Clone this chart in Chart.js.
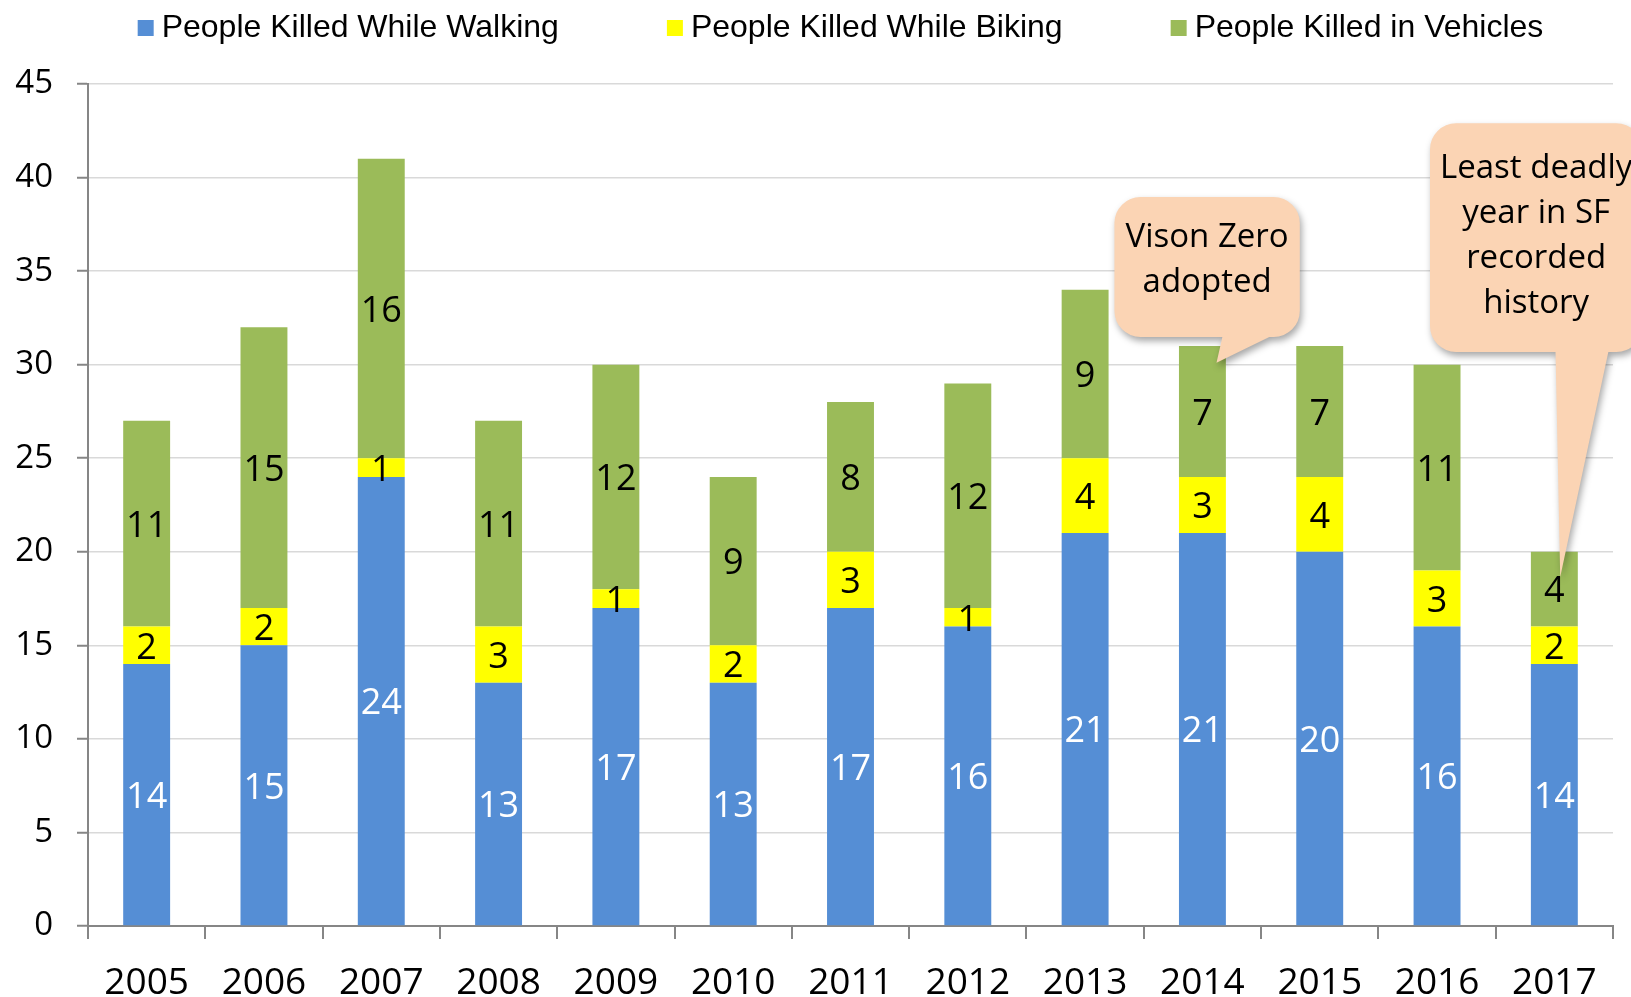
<!DOCTYPE html>
<html>
<head>
<meta charset="utf-8">
<script src="https://cdn.jsdelivr.net/npm/chart.js@4.4.1/dist/chart.umd.min.js"></script>
<style>
  html, body { margin: 0; padding: 0; background: #fff; }
  canvas { display: block; }
</style>
</head>
<body>
<canvas id="chart" width="1631" height="997"></canvas>
<script>
// data
const years = ['2005', '2006', '2007', '2008', '2009', '2010', '2011', '2012', '2013', '2014', '2015', '2016', '2017'];
const walking = [14, 15, 24, 13, 17, 13, 17, 16, 21, 21, 20, 16, 14];
const biking = [2, 2, 1, 3, 1, 2, 3, 1, 4, 3, 4, 3, 2];
const vehicles = [11, 15, 16, 11, 12, 9, 8, 12, 9, 7, 7, 11, 4];
const seriesLabels = ['People Killed While Walking', 'People Killed While Biking', 'People Killed in Vehicles'];

// callout notes, anchored in data units (x = category index, y = value)
const notes = [
    { lines: ['Vison Zero', 'adopted'], x: [8.25, 9.83], y: [38.96, 31.48], base: [9.17, 9.57], tip: [9.12, 30.1], dy: -7 },
    { lines: ['Least deadly', 'year in SF', 'recorded', 'history'], x: [10.94, 12.75], y: [42.9, 30.68], base: [12.01, 12.46], tip: [12.05, 18.65], dy: -2 }
];

const FONT = '"Open Sans", sans-serif';

function drawNote(chart, note) {
    const ctx = chart.ctx;
    const xs = chart.scales.x, ys = chart.scales.y;
    const px = v => xs.getPixelForValue(v);
    const py = v => ys.getPixelForValue(v);
    const l = px(note.x[0]), r = px(note.x[1]);
    const t = py(note.y[0]), b = py(note.y[1]);
    const bl = px(note.base[0]), br = px(note.base[1]);
    const tx = px(note.tip[0]), ty = py(note.tip[1]);
    const rad = 26;

    ctx.save();
    ctx.beginPath();
    ctx.moveTo(l + rad, t);
    ctx.arcTo(r, t, r, b, rad);
    ctx.arcTo(r, b, l, b, rad);
    ctx.lineTo(br, b);
    ctx.lineTo(tx, ty);
    ctx.lineTo(bl, b);
    ctx.arcTo(l, b, l, t, rad);
    ctx.arcTo(l, t, r, t, rad);
    ctx.closePath();
    ctx.shadowColor = 'rgba(0,0,0,0.35)';
    ctx.shadowBlur = 7;
    ctx.shadowOffsetX = 2;
    ctx.shadowOffsetY = 4;
    ctx.fillStyle = '#fbd4b4';
    ctx.fill();
    ctx.restore();

    ctx.save();
    ctx.font = '33px ' + FONT;
    ctx.fillStyle = '#000';
    ctx.textAlign = 'center';
    ctx.textBaseline = 'middle';
    const lh = 45;
    const cx = (l + r) / 2;
    const cy = (t + b) / 2 + note.dy;
    note.lines.forEach((s, i) => {
        ctx.fillText(s, cx, cy + (i - (note.lines.length - 1) / 2) * lh);
    });
    ctx.restore();
}

const overlays = {
    id: 'overlays',
    afterDatasetsDraw(chart) {
        notes.forEach(n => drawNote(chart, n));

        // value labels in the middle of each segment
        const ctx = chart.ctx;
        ctx.save();
        ctx.font = '36px ' + FONT;
        ctx.textAlign = 'center';
        ctx.textBaseline = 'middle';
        chart.data.datasets.forEach((ds, i) => {
            const meta = chart.getDatasetMeta(i);
            meta.data.forEach((bar, j) => {
                ctx.fillStyle = i === 0 ? '#ffffff' : '#000000';
                ctx.fillText(String(ds.data[j]), bar.x, (bar.y + bar.base) / 2 + 3);
            });
        });
        ctx.restore();
    },
    afterDraw(chart) {
        // legend along the top
        const ctx = chart.ctx;
        const area = chart.chartArea;
        ctx.save();
        ctx.font = '32px "Liberation Sans", Arial, sans-serif';
        ctx.textBaseline = 'middle';
        ctx.textAlign = 'left';
        const box = 16, gap = 8, spacing = 108;
        const items = chart.data.datasets.map(ds => ({ text: ds.label, color: ds.backgroundColor, w: ctx.measureText(ds.label).width }));
        let total = items.reduce((s, it) => s + box + gap + it.w, 0) + spacing * (items.length - 1);
        let x = (area.left + area.right) / 2 - 10 - total / 2;
        const y = 28;
        items.forEach(it => {
            ctx.fillStyle = it.color;
            ctx.fillRect(x, y - box / 2, box, box);
            ctx.fillStyle = '#000';
            ctx.fillText(it.text, x + box + gap, y);
            x += box + gap + it.w + spacing;
        });
        ctx.restore();
    }
};

new Chart(document.getElementById('chart'), {
    type: 'bar',
    data: {
        labels: years,
        datasets: [
            { label: seriesLabels[0], data: walking, backgroundColor: '#558ed5' },
            { label: seriesLabels[1], data: biking, backgroundColor: '#ffff00' },
            { label: seriesLabels[2], data: vehicles, backgroundColor: '#9bbb59' }
        ]
    },
    options: {
        responsive: false,
        animation: false,
        events: [],
        layout: { padding: { top: 84, right: 18, bottom: 0, left: 0 } },
        datasets: {
            bar: { categoryPercentage: 1.0, barPercentage: 0.4, borderWidth: 0 }
        },
        plugins: {
            legend: { display: false },
            tooltip: { enabled: false }
        },
        scales: {
            x: {
                stacked: true,
                afterFit: s => { s.height = 71; },
                grid: {
                    offset: true,
                    drawOnChartArea: false,
                    drawTicks: true,
                    tickLength: 13,
                    color: '#868686',
                    lineWidth: 2
                },
                border: { color: '#868686', width: 2 },
                ticks: {
                    color: '#000',
                    padding: 22,
                    font: { family: FONT, size: 37 }
                }
            },
            y: {
                stacked: true,
                min: 0,
                max: 45,
                afterFit: s => { s.width = 88; },
                grid: {
                    color: '#d9d9d9',
                    lineWidth: 1.5,
                    tickLength: 11,
                    tickColor: '#868686',
                    tickWidth: 2
                },
                border: { color: '#868686', width: 2 },
                ticks: {
                    stepSize: 5,
                    color: '#000',
                    padding: 24,
                    font: { family: FONT, size: 33 }
                }
            }
        }
    },
    plugins: [overlays]
});
</script>
</body>
</html>
